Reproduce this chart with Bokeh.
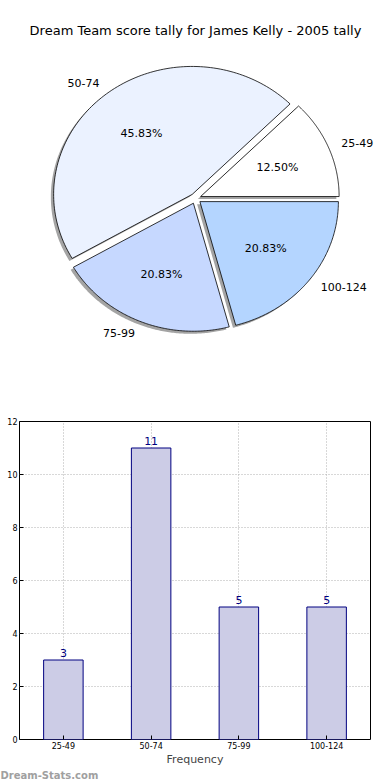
import numpy as np
from bokeh.plotting import figure
from bokeh.models import Range1d, LabelSet, ColumnDataSource, FixedTicker, FactorRange, Title
from bokeh.layouts import column
from bokeh.embed import file_html
from bokeh.resources import INLINE
from bokeh.core.properties import value

# ---- data ----
title_text = "Dream Team score tally for James Kelly - 2005 tally"
categories = ["25-49", "50-74", "75-99", "100-124"]
counts = [3, 11, 5, 5]
pie_colors = ["#ffffff", "#ebf2ff", "#c6d8ff", "#b4d5ff"]
y_ticks = [0, 2, 4, 6, 8, 10, 12]
x_label = "Frequency"
watermark = "Dream-Stats.com"

FONT = "DejaVu Sans"
W = 374
PIE_H = 400
BAR_H = 380

# ---- pie ----
pie = figure(width=W, height=PIE_H, x_range=Range1d(0, W), y_range=Range1d(0, PIE_H),
             x_axis_location=None, y_axis_location=None,
             output_backend="svg", toolbar_location=None, min_border=0)
pie.frame_align = False
pie.grid.visible = False
pie.outline_line_color = None

cx, cy = 195.0, 202.0
rx, ry = 138.5, 128.0
explode = 0.04
total = float(sum(counts))
fracs = [c / total for c in counts]

starts = np.cumsum([0.0] + fracs[:-1]) * 2 * np.pi
ends = np.cumsum(fracs) * 2 * np.pi

wedge_xs, wedge_ys, shadow_xs, shadow_ys = [], [], [], []
for t1, t2 in zip(starts, ends):
    mid = 0.5 * (t1 + t2)
    ox = cx + explode * rx * np.cos(mid)
    oy = cy + explode * ry * np.sin(mid)
    ts = np.linspace(t1, t2, 120)
    xs = [ox] + list(ox + rx * np.cos(ts)) + [ox]
    ys = [oy] + list(oy + ry * np.sin(ts)) + [oy]
    wedge_xs.append(xs)
    wedge_ys.append(ys)
    shadow_xs.append([x - 0.02 * rx for x in xs])
    shadow_ys.append([y - 0.02 * ry for y in ys])

pie.patches(shadow_xs, shadow_ys, fill_color="#4a4a4a", fill_alpha=0.5, line_color=None)
pie.patches(wedge_xs, wedge_ys, fill_color=pie_colors, line_color="black", line_width=0.8)

for cat, f, t1, t2 in zip(categories, fracs, starts, ends):
    mid = 0.5 * (t1 + t2)
    c, s = np.cos(mid), np.sin(mid)
    lx = cx + (1.1 + explode) * rx * c
    ly = cy + (1.1 + explode) * ry * s
    pie.text(x=[lx], y=[ly], text=[cat], text_align="left" if c > 0 else "right",
             text_baseline="middle", text_font=value(FONT), text_font_size="11px",
             text_color="black")
    px = cx + (0.6 + explode) * rx * c
    py = cy + (0.6 + explode) * ry * s
    pie.text(x=[px], y=[py], text=["%.2f%%" % (100 * f)], text_align="center",
             text_baseline="middle", text_font=value(FONT), text_font_size="11px",
             text_color="black")

pie.text(x=[195], y=[PIE_H - 30], text=[title_text], text_align="center",
         text_baseline="middle", text_font=value(FONT), text_font_size="13px",
         text_color="black")

# ---- bar ----
bar = figure(width=W, height=BAR_H, x_range=FactorRange(*categories), y_range=Range1d(0, 12),
             output_backend="svg", toolbar_location=None,
             min_border_left=19, min_border_right=4, min_border_top=21, min_border_bottom=0)
bar.frame_align = False
src = ColumnDataSource(dict(cat=categories, count=counts, label=[str(c) for c in counts]))
bar.vbar(x="cat", top="count", width=0.45, source=src, fill_color="#cccce6",
         line_color="#000080", line_width=1)
bar.add_layout(LabelSet(x="cat", y="count", text="label", source=src, y_offset=3,
                        text_align="center", text_baseline="bottom", text_color="#000080",
                        text_font=value(FONT), text_font_size=value("11px")))

bar.outline_line_color = "black"
bar.outline_line_width = 1
bar.outline_line_alpha = 1.0
for g in (bar.xgrid, bar.ygrid):
    g.grid_line_color = "#b0b0b0"
    g.grid_line_dash = "1 2"

bar.yaxis.ticker = FixedTicker(ticks=y_ticks)
for ax in (bar.xaxis, bar.yaxis):
    ax.axis_line_color = None
    ax.major_tick_in = 4
    ax.major_tick_out = 0
    ax.minor_tick_line_color = None
    ax.major_label_text_font = FONT
    ax.major_label_text_font_size = "8px"
    ax.major_label_text_color = "black"
    ax.major_label_standoff = 2
bar.xaxis.axis_label = x_label
bar.xaxis.axis_label_text_font = FONT
bar.xaxis.axis_label_text_font_size = "11px"
bar.xaxis.axis_label_text_font_style = "normal"
bar.xaxis.axis_label_standoff = 1

bar.add_layout(Title(text=watermark, align="left", offset=-19, standoff=-1,
                     text_font=FONT, text_font_size="10px", text_font_style="bold",
                     text_color="#a0a0a0"), "below")

layout = column(pie, bar, spacing=0)
open("out.html", "w").write(file_html(layout, INLINE))
